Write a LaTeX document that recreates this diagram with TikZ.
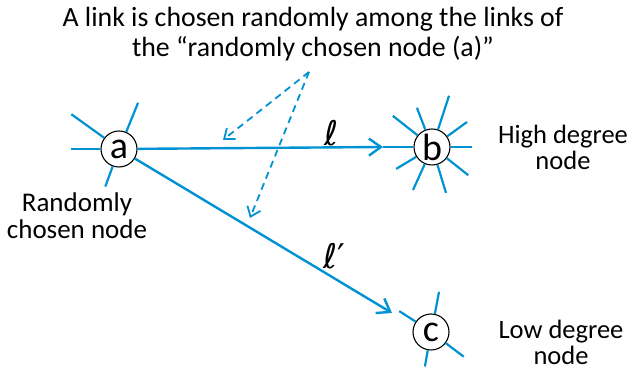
\documentclass[tikz,border=0pt]{standalone}
\usepackage{fontspec}
\setmainfont{Carlito}
\newfontfamily\symfont{DejaVu Sans}
\usetikzlibrary{arrows.meta}
\definecolor{linkblue}{RGB}{0,146,210}

\begin{document}
\begin{tikzpicture}[x=1pt,y=1pt,
  vertex/.style={circle,draw,line width=1.1pt,fill=white,minimum size=36pt,inner sep=0pt,font=\fontsize{38}{38}\selectfont},
  link/.style={linkblue,line width=2.4pt},
  spoke/.style={linkblue,line width=2.2pt},
  pick/.style={linkblue,line width=1.8pt,dash pattern=on 7pt off 5pt,-{Straight Barb[length=9pt,width=14pt,line width=1.8pt]}},
  lbl/.style={font=\fontsize{26.5}{26}\selectfont,align=center,inner sep=1pt},
  sym/.style={font=\symfont\fontsize{34}{34}\selectfont,inner sep=1pt}]
\useasboundingbox (0,0) rectangle (633,371);

% nodes
\node[vertex] (a) at (119,222) {a};
\node[vertex] (b) at (432,224) {b};
\node[vertex] (c) at (431,39) {c};

% spokes of each node
\foreach \ang/\len in {180/48,143.9/59,67.6/50,-110/40}
  \draw[spoke] (a.\ang) -- ([shift={(\ang:\len)}]a.center);
\foreach \ang/\len in {71.6/54,35.5/43,0/40,-37.9/46,-73/48,-113.8/47,-148.6/42,141.5/50,111/42,180/49}
  \draw[spoke] (b.\ang) -- ([shift={(\ang:\len)}]b.center);
\foreach \ang/\len in {78.7/41,-37/41,-100/35,146.7/38}
  \draw[spoke] (c.\ang) -- ([shift={(\ang:\len)}]c.center);

% links
\coordinate (btip) at (383,224);
\coordinate (ctip) at (392,58);
\draw[link,-{Straight Barb[length=12pt,width=17pt,line width=2.4pt]}] (a) -- (btip);
\draw[link,-{Straight Barb[length=12pt,width=17pt,line width=2.4pt]}] (a) -- (ctip);
\node[sym] (ell) at (332,238) {ℓ};
\node[sym,anchor=west] (ellp) at (322,115) {ℓ′};

% texts
\node[lbl,font=\fontsize{27.8}{30}\selectfont] (note) at (313,337) {A link is chosen randomly among the links of\\the “randomly chosen node (a)”};
\node[lbl,font=\fontsize{27}{27}\selectfont] (anote) at (77,155) {Randomly\\chosen node};
\node[lbl] (bnote) at (563,224) {High degree\\node};
\node[lbl] (cnote) at (561,29) {Low degree\\node};

% dashed pointers
\coordinate (src) at (309,299);
\coordinate (p1) at (223,231);
\coordinate (p2) at (250,153);
\draw[pick] (src) -- (p1);
\draw[pick] (src) -- (p2);
\end{tikzpicture}
\end{document}
